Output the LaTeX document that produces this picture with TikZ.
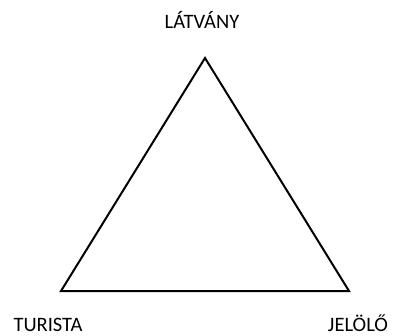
\documentclass[tikz,border=0pt]{standalone}
\usepackage{fontspec}
\setmainfont{Carlito}
\tikzset{
	csucs/.style={font=\fontsize{20.5}{24}\selectfont, inner sep=0pt, anchor=base},
}
\begin{document}
\begin{tikzpicture}[x=1pt,y=-1pt]
	\useasboundingbox (0,0) rectangle (393,335);
	\coordinate (latvany) at (205,58);
	\coordinate (turista) at (61,291);
	\coordinate (jelolo) at (349,291);
	\node[csucs] (l) at (202,28.5) {LÁTVÁNY};
	\node[csucs] (t) at (48,331) {TURISTA};
	\node[csucs] (j) at (358,331) {JELÖLŐ};
	\draw[line width=2pt, line join=miter] (latvany) -- (turista) -- (jelolo) -- cycle;
\end{tikzpicture}
\end{document}
